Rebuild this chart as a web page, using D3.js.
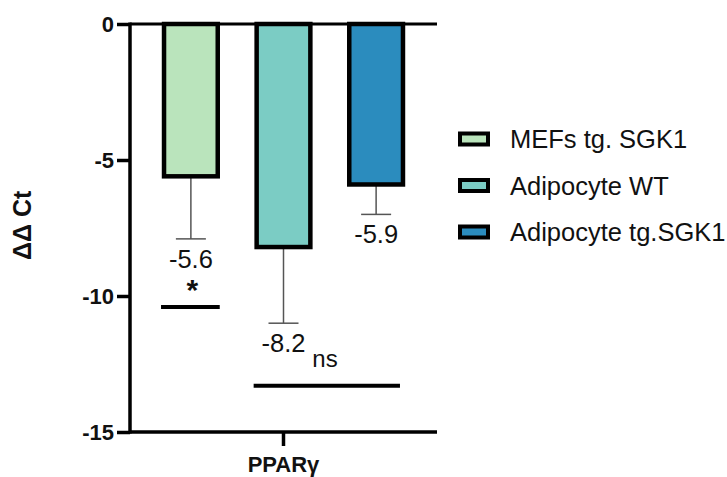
<!DOCTYPE html>
<html>
<head>
<meta charset="utf-8">
<script src="https://cdn.jsdelivr.net/npm/d3@7"></script>
<style>
  body { margin: 0; background: #fff; }
  text { font-family: "Liberation Sans", Arial, sans-serif; fill: #111; }
</style>
</head>
<body>
<div id="chart"></div>
<script>
// values
var groups = ["MEFs tg. SGK1", "Adipocyte WT", "Adipocyte tg.SGK1"];
var means = [-5.6, -8.2, -5.9];
var errors = [2.3, 2.8, 1.1];
var colors = ["#bae4bc", "#7bccc4", "#2b8cbe"];
var yTicks = [0, -5, -10, -15];
var category = "PPARγ";

// significance marks: [first group, last group, level (data units), label]
var sigBars = [
    {from: 0, to: 0, level: -10.4, label: "*"},
    {from: 1, to: 2, level: -13.3, label: "ns"}
];

var width = 727, height = 477;

var svg = d3.select("#chart").append("svg")
    .attr("width", width)
    .attr("height", height);

var y = d3.scaleLinear().domain([-15, 0]).range([432, 24]);

var x = d3.scaleBand()
    .domain(groups)
    .range([145.5, 421.5])
    .paddingInner(0.42)
    .paddingOuter(0.2);

var fmt = d => String(d); // plain hyphen minus, like the figure

// y axis
var yAxis = svg.append("g")
    .attr("transform", "translate(130,0)")
    .call(d3.axisLeft(y).tickValues(yTicks).tickSize(13).tickPadding(3).tickFormat(fmt));
yAxis.select(".domain").remove();
yAxis.selectAll("line").attr("stroke", "#000").attr("stroke-width", 3.5);
yAxis.selectAll("text")
    .style("font-size", "22px")
    .style("font-weight", "bold")
    .attr("fill", "#111");

svg.append("line")
    .attr("x1", 130).attr("x2", 130)
    .attr("y1", y(0) - 1.5).attr("y2", y(-15) + 1.5)
    .attr("stroke", "#000").attr("stroke-width", 3.5);

// baseline (0) and bottom axis
svg.append("line")
    .attr("x1", 130).attr("x2", 437)
    .attr("y1", y(0)).attr("y2", y(0))
    .attr("stroke", "#000").attr("stroke-width", 3);

svg.append("line")
    .attr("x1", 130).attr("x2", 437)
    .attr("y1", y(-15)).attr("y2", y(-15))
    .attr("stroke", "#000").attr("stroke-width", 3.5);

var cx = (x.range()[0] + x.range()[1]) / 2;
svg.append("line")
    .attr("x1", cx).attr("x2", cx)
    .attr("y1", y(-15)).attr("y2", y(-15) + 14)
    .attr("stroke", "#000").attr("stroke-width", 3.5);

svg.append("text")
    .attr("x", cx).attr("y", 472)
    .attr("text-anchor", "middle")
    .style("font-size", "22px")
    .style("font-weight", "bold")
    .text(category);

// y title
svg.append("text")
    .attr("transform", "translate(31," + y(-7.4) + ") rotate(-90)")
    .attr("text-anchor", "middle")
    .style("font-size", "25px")
    .style("font-weight", "bold")
    .text("ΔΔ Ct");

var data = groups.map(function(g, i) {
    return {group: g, mean: means[i], err: errors[i], color: colors[i]};
});

// error bars (drawn first so bars cover the top part)
var eb = svg.append("g").selectAll("g")
    .data(data)
    .enter().append("g");

eb.append("line")
    .attr("x1", d => x(d.group) + x.bandwidth() / 2)
    .attr("x2", d => x(d.group) + x.bandwidth() / 2)
    .attr("y1", d => y(d.mean))
    .attr("y2", d => y(d.mean - d.err))
    .attr("stroke", "#555").attr("stroke-width", 1.5);

eb.append("line")
    .attr("x1", d => x(d.group) + x.bandwidth() / 2 - 15)
    .attr("x2", d => x(d.group) + x.bandwidth() / 2 + 15)
    .attr("y1", d => y(d.mean - d.err))
    .attr("y2", d => y(d.mean - d.err))
    .attr("stroke", "#555").attr("stroke-width", 1.5);

// bars
svg.append("g").selectAll("rect")
    .data(data)
    .enter().append("rect")
    .attr("x", d => x(d.group))
    .attr("y", y(0))
    .attr("width", x.bandwidth())
    .attr("height", d => y(d.mean) - y(0))
    .attr("fill", d => d.color)
    .attr("stroke", "#000")
    .attr("stroke-width", 4.5);

// value labels
svg.append("g").selectAll("text")
    .data(data)
    .enter().append("text")
    .attr("x", d => x(d.group) + x.bandwidth() / 2)
    .attr("y", d => y(d.mean - d.err) + 29)
    .attr("text-anchor", "middle")
    .style("font-size", "25.5px")
    .text(d => d.mean.toFixed(1));

// significance lines
sigBars.forEach(function(s) {
    var x1 = x(groups[s.from]) - 3;
    var x2 = x(groups[s.to]) + x.bandwidth() - (s.to > s.from ? 3 : -2);
    svg.append("line")
        .attr("x1", x1).attr("x2", x2)
        .attr("y1", y(s.level)).attr("y2", y(s.level))
        .attr("stroke", "#000").attr("stroke-width", 4);
    if (s.label === "*") {
        svg.append("text")
            .attr("x", (x1 + x2) / 2 + 2)
            .attr("y", y(s.level) - 7)
            .attr("text-anchor", "middle")
            .style("font-size", "30px")
            .style("font-weight", "bold")
            .text(s.label);
    } else {
        svg.append("text")
            .attr("x", x(groups[s.from]) + x.bandwidth() + 2)
            .attr("y", y(s.level) - 19)
            .style("font-size", "24px")
            .text(s.label);
    }
});

// legend
var legend = svg.append("g").selectAll("g")
    .data(data)
    .enter().append("g")
    .attr("transform", (d, i) => `translate(458,${139 + i * 46.5})`);

legend.append("rect")
    .attr("x", 2).attr("y", -5.5)
    .attr("width", 28).attr("height", 11)
    .attr("fill", d => d.color)
    .attr("stroke", "#000")
    .attr("stroke-width", 4);

legend.append("text")
    .attr("x", 52).attr("y", 9)
    .style("font-size", "25.5px")
    .text(d => d.group);
</script>
</body>
</html>
